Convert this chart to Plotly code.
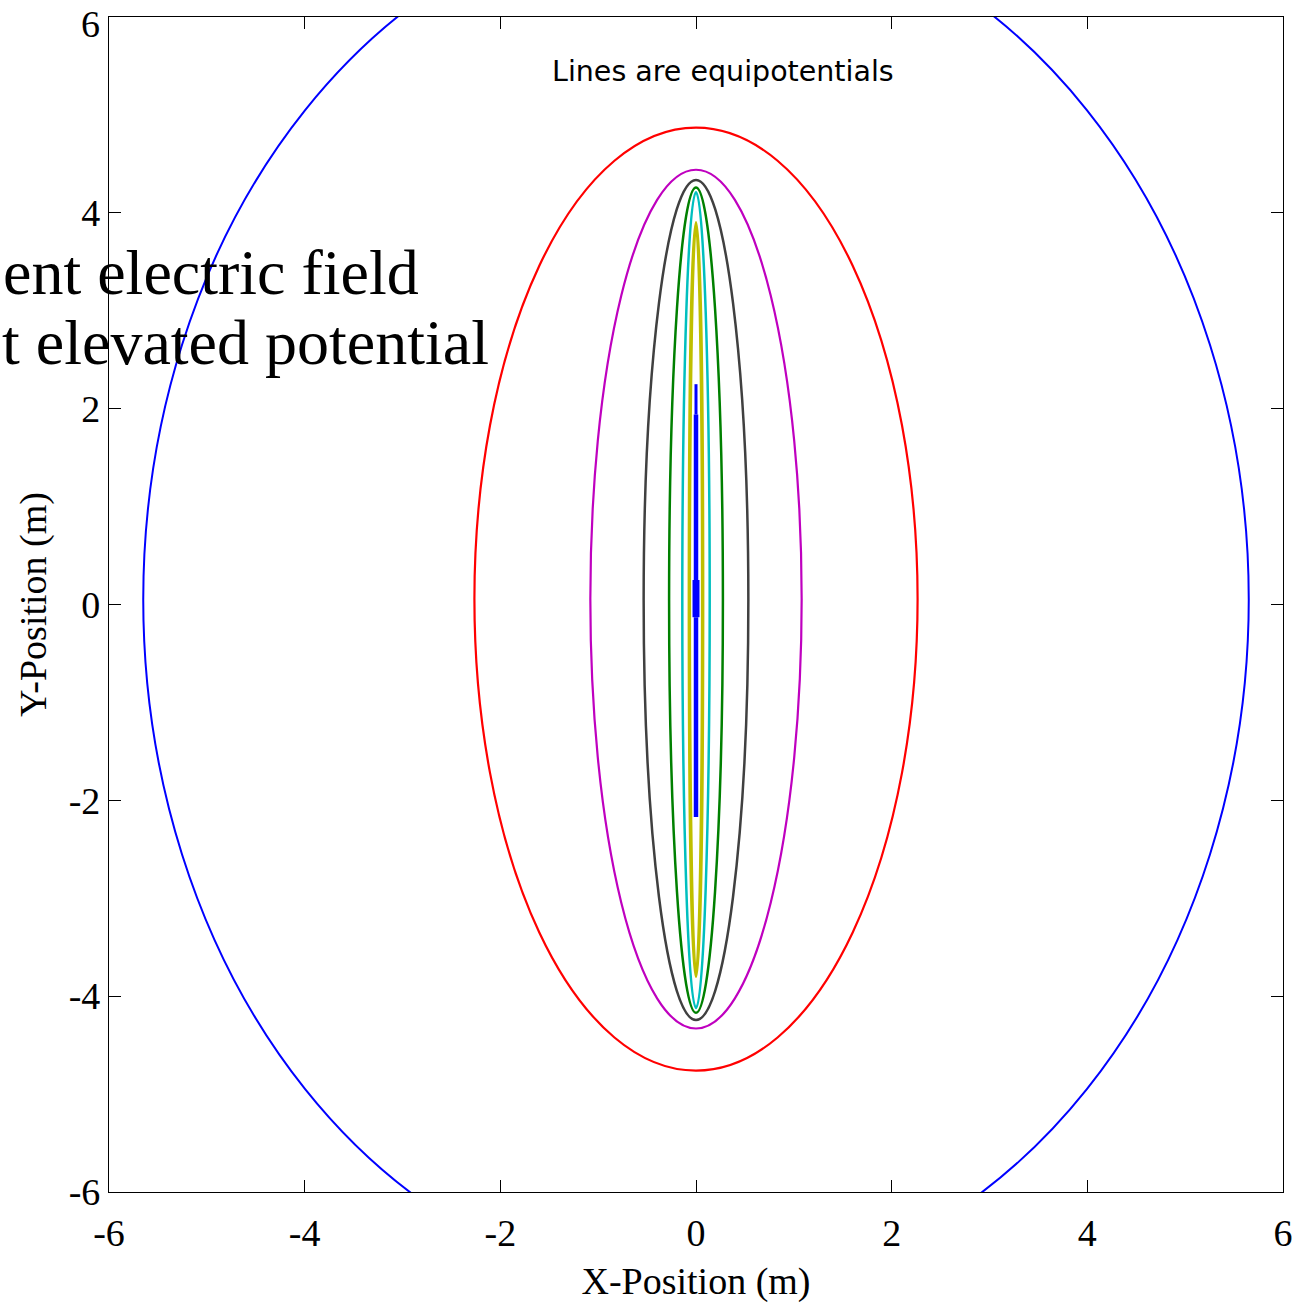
import plotly.graph_objects as go

# ---- data ----
# equipotential curves (ellipse-like closed contours): half-width in x, half-height in y, centre y
curve_names = ["outer", "red", "magenta", "dark", "green", "cyan", "yellow"]
curve_semi_x = [5.65, 2.265, 1.08, 0.535, 0.275, 0.14, 0.068]
curve_semi_y = [7.07, 4.815, 4.385, 4.29, 4.215, 4.165, 3.85]
curve_center_y = [0.05, 0.055, 0.055, 0.046, 0.045, 0.045, 0.05]
curve_colors = ["#0000ff", "#ff0000", "#bf00bf", "#404040", "#008000", "#00bfbf", "#bfbf00"]
curve_widths = [2, 2.2, 2.2, 2.5, 2.5, 2.5, 3.5]

# conductor rod at x = 0 (segments: y_top, y_bottom, drawn width)
rod_x = 0.0
rod_y_top = [2.25, 1.94, 0.25, -0.13]
rod_y_bot = [1.94, 0.25, -0.13, -2.17]
rod_widths = [3, 4.5, 7, 4.5]

tick_vals = [-6, -4, -2, 0, 2, 4, 6]
tick_text = ["-6", "-4", "-2", "0", "2", "4", "6"]
# the top y label is drawn as an annotation, slightly lowered, so it stays inside the page
y_tick_text = ["-6", "-4", "-2", "0", "2", "4", ""]
y_top_label = "6"
y_top_value = 6

fig = go.Figure()

# invisible anchor trace so the axes exist
fig.add_trace(go.Scatter(x=[-6, 6], y=[-6, 6], mode="markers",
                         marker=dict(opacity=0), hoverinfo="skip", showlegend=False))

for name, a, b, cy, col, w in zip(curve_names, curve_semi_x, curve_semi_y,
                                  curve_center_y, curve_colors, curve_widths):
    fig.add_shape(type="circle", xref="x", yref="y",
                  x0=-a, x1=a, y0=cy - b, y1=cy + b,
                  line=dict(color=col, width=w), layer="above", name=name)

for yt, yb, w in zip(rod_y_top, rod_y_bot, rod_widths):
    fig.add_trace(go.Scatter(x=[rod_x, rod_x], y=[yt, yb], mode="lines",
                             line=dict(color="#0000ff", width=w),
                             hoverinfo="skip", showlegend=False))

serif = "Liberation Serif, Times New Roman, serif"

fig.add_annotation(x=0.28, y=5.44, xref="x", yref="y", text="Lines are equipotentials",
                   showarrow=False, font=dict(family="DejaVu Sans, Arial, sans-serif",
                                              size=28.5, color="black"))
fig.add_annotation(x=0.266, y=3.39, xref="paper", yref="y", text="ent electric field",
                   xanchor="right", showarrow=False,
                   font=dict(family=serif, size=64, color="black"))
fig.add_annotation(x=-0.0928, y=2.68, xref="paper", yref="y", text="t elevated potential",
                   xanchor="left", showarrow=False,
                   font=dict(family=serif, size=64, color="black"))
fig.add_annotation(x=-0.0062, y=y_top_value, xref="paper", yref="y", text=y_top_label,
                   xanchor="right", yanchor="middle", yshift=-7, showarrow=False,
                   font=dict(family=serif, size=38, color="black"))

axis_common = dict(range=[-6, 6], tickvals=tick_vals,
                   showline=True, linecolor="black", linewidth=1.2, mirror="ticks",
                   ticks="inside", ticklen=12, tickcolor="black", tickwidth=1,
                   showgrid=False, zeroline=False, automargin=False,
                   ticklabeloverflow="allow",
                   tickfont=dict(family=serif, size=38, color="black"))

fig.update_xaxes(**axis_common, ticktext=tick_text, ticklabelstandoff=7,
                 title=dict(text="X-Position (m)", font=dict(family=serif, size=38, color="black"),
                            standoff=14))
fig.update_yaxes(**axis_common, ticktext=y_tick_text,
                 title=dict(text="Y-Position (m)", font=dict(family=serif, size=38, color="black"),
                            standoff=10))

fig.update_layout(width=1300, height=1303, autosize=False,
                  margin=dict(l=109, r=17, t=17, b=111),
                  plot_bgcolor="white", paper_bgcolor="white",
                  showlegend=False)

fig.write_html("out.html")
